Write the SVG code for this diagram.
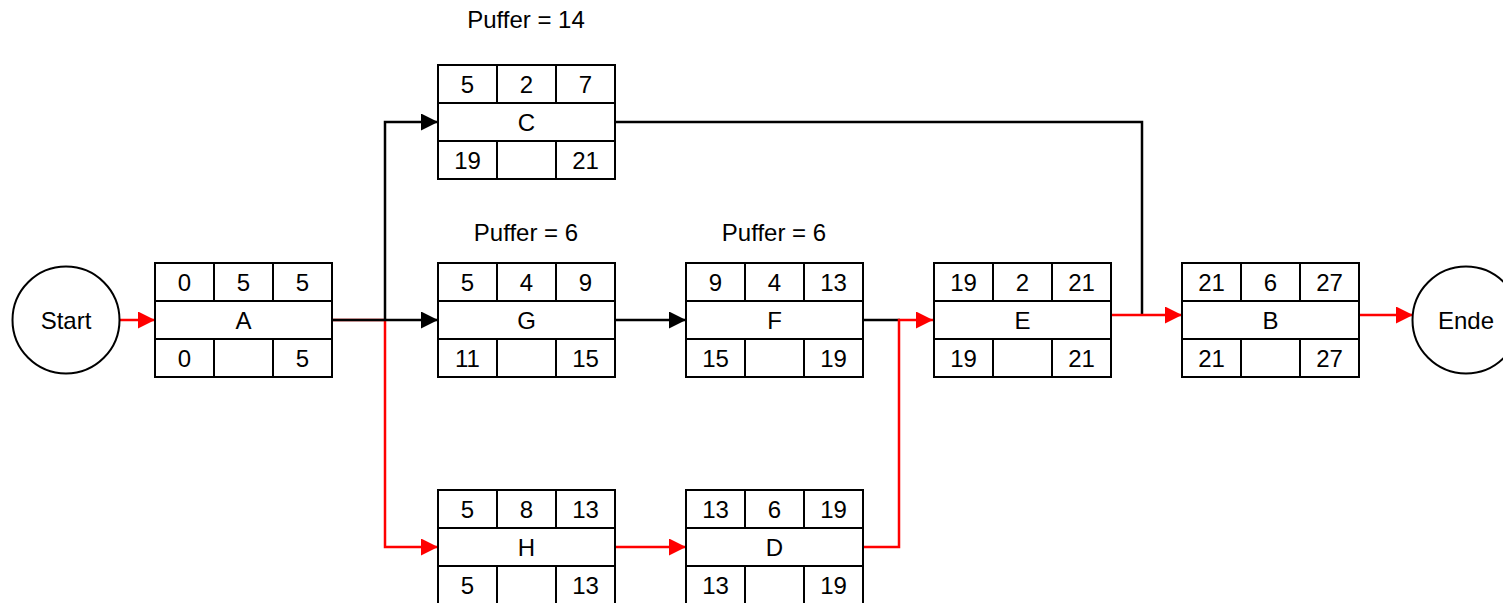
<svg xmlns="http://www.w3.org/2000/svg" width="1503" height="603" viewBox="0 0 1503 603">
  <style>
    .box { fill: #ffffff; stroke: #000000; stroke-width: 2; }
    .grid { stroke: #000000; stroke-width: 2; fill: none; }
    .t { font-family: "Liberation Sans", Arial, sans-serif; font-size: 24px; fill: #000000; text-anchor: middle; }
    .blk { fill: none; stroke: #000000; stroke-width: 2.5; }
    .red { fill: none; stroke: #ff0000; stroke-width: 2.5; }
  </style>
  <defs>
    <marker id="arrowBlack" markerUnits="userSpaceOnUse" markerWidth="18" markerHeight="18" refX="17" refY="8.5" orient="auto">
      <path d="M0,0 L17,8.5 L0,17 z" fill="#000000"/>
    </marker>
    <marker id="arrowRed" markerUnits="userSpaceOnUse" markerWidth="18" markerHeight="18" refX="17" refY="8.5" orient="auto">
      <path d="M0,0 L17,8.5 L0,17 z" fill="#ff0000"/>
    </marker>
    <!-- activity box: 3 columns x 3 rows, 177 x 114 -->
    <g id="frame">
      <rect class="box" x="0" y="0" width="177" height="114"/>
      <path class="grid" d="M0,38 H177 M0,76 H177 M59,0 V38 M118,0 V38 M59,76 V114 M118,76 V114"/>
    </g>
  </defs>

  <!-- buffer labels -->
  <text class="t" x="526" y="28">Puffer = 14</text>
  <text class="t" x="526" y="241">Puffer = 6</text>
  <text class="t" x="774" y="241">Puffer = 6</text>

  <!-- connectors -->
  <g id="connectors">
    <path class="red" d="M119,320 H155" marker-end="url(#arrowRed)"/>
    <path class="red" d="M331,320 H385 V547 H438" marker-end="url(#arrowRed)"/>
    <path class="blk" d="M331,320 H438" marker-end="url(#arrowBlack)"/>
    <path class="blk" d="M385,320 V122 H438" marker-end="url(#arrowBlack)"/>
    <path class="blk" d="M614,320 H686" marker-end="url(#arrowBlack)"/>
    <path class="red" d="M614,547 H686" marker-end="url(#arrowRed)"/>
    <path class="blk" d="M862,320 H900"/>
    <path class="red" d="M862,547 H899 V320 H933" marker-end="url(#arrowRed)"/>
    <path class="blk" d="M614,122 H1142 V315"/>
    <path class="red" d="M1111,315 H1182" marker-end="url(#arrowRed)"/>
    <path class="red" d="M1360,315 H1413" marker-end="url(#arrowRed)"/>
  </g>

  <!-- start / end events -->
  <g id="start">
    <circle cx="66" cy="320" r="53.5" fill="#ffffff" stroke="#000000" stroke-width="2"/>
    <text class="t" x="66" y="328.5">Start</text>
  </g>
  <g id="ende">
    <circle cx="1466" cy="320" r="53.5" fill="#ffffff" stroke="#000000" stroke-width="2"/>
    <text class="t" x="1466" y="328.5">Ende</text>
  </g>

  <!-- activities -->
  <g id="nodeA" transform="translate(155,263)">
    <use href="#frame"/>
    <text class="t" x="29.5" y="27.5">0</text><text class="t" x="88.5" y="27.5">5</text><text class="t" x="147.5" y="27.5">5</text>
    <text class="t" x="88.5" y="65.5">A</text>
    <text class="t" x="29.5" y="103.5">0</text><text class="t" x="147.5" y="103.5">5</text>
  </g>
  <g id="nodeC" transform="translate(438,65)">
    <use href="#frame"/>
    <text class="t" x="29.5" y="27.5">5</text><text class="t" x="88.5" y="27.5">2</text><text class="t" x="147.5" y="27.5">7</text>
    <text class="t" x="88.5" y="65.5">C</text>
    <text class="t" x="29.5" y="103.5">19</text><text class="t" x="147.5" y="103.5">21</text>
  </g>
  <g id="nodeG" transform="translate(438,263)">
    <use href="#frame"/>
    <text class="t" x="29.5" y="27.5">5</text><text class="t" x="88.5" y="27.5">4</text><text class="t" x="147.5" y="27.5">9</text>
    <text class="t" x="88.5" y="65.5">G</text>
    <text class="t" x="29.5" y="103.5">11</text><text class="t" x="147.5" y="103.5">15</text>
  </g>
  <g id="nodeH" transform="translate(438,490)">
    <use href="#frame"/>
    <text class="t" x="29.5" y="27.5">5</text><text class="t" x="88.5" y="27.5">8</text><text class="t" x="147.5" y="27.5">13</text>
    <text class="t" x="88.5" y="65.5">H</text>
    <text class="t" x="29.5" y="103.5">5</text><text class="t" x="147.5" y="103.5">13</text>
  </g>
  <g id="nodeF" transform="translate(686,263)">
    <use href="#frame"/>
    <text class="t" x="29.5" y="27.5">9</text><text class="t" x="88.5" y="27.5">4</text><text class="t" x="147.5" y="27.5">13</text>
    <text class="t" x="88.5" y="65.5">F</text>
    <text class="t" x="29.5" y="103.5">15</text><text class="t" x="147.5" y="103.5">19</text>
  </g>
  <g id="nodeD" transform="translate(686,490)">
    <use href="#frame"/>
    <text class="t" x="29.5" y="27.5">13</text><text class="t" x="88.5" y="27.5">6</text><text class="t" x="147.5" y="27.5">19</text>
    <text class="t" x="88.5" y="65.5">D</text>
    <text class="t" x="29.5" y="103.5">13</text><text class="t" x="147.5" y="103.5">19</text>
  </g>
  <g id="nodeE" transform="translate(934,263)">
    <use href="#frame"/>
    <text class="t" x="29.5" y="27.5">19</text><text class="t" x="88.5" y="27.5">2</text><text class="t" x="147.5" y="27.5">21</text>
    <text class="t" x="88.5" y="65.5">E</text>
    <text class="t" x="29.5" y="103.5">19</text><text class="t" x="147.5" y="103.5">21</text>
  </g>
  <g id="nodeB" transform="translate(1182,263)">
    <use href="#frame"/>
    <text class="t" x="29.5" y="27.5">21</text><text class="t" x="88.5" y="27.5">6</text><text class="t" x="147.5" y="27.5">27</text>
    <text class="t" x="88.5" y="65.5">B</text>
    <text class="t" x="29.5" y="103.5">21</text><text class="t" x="147.5" y="103.5">27</text>
  </g>
</svg>
